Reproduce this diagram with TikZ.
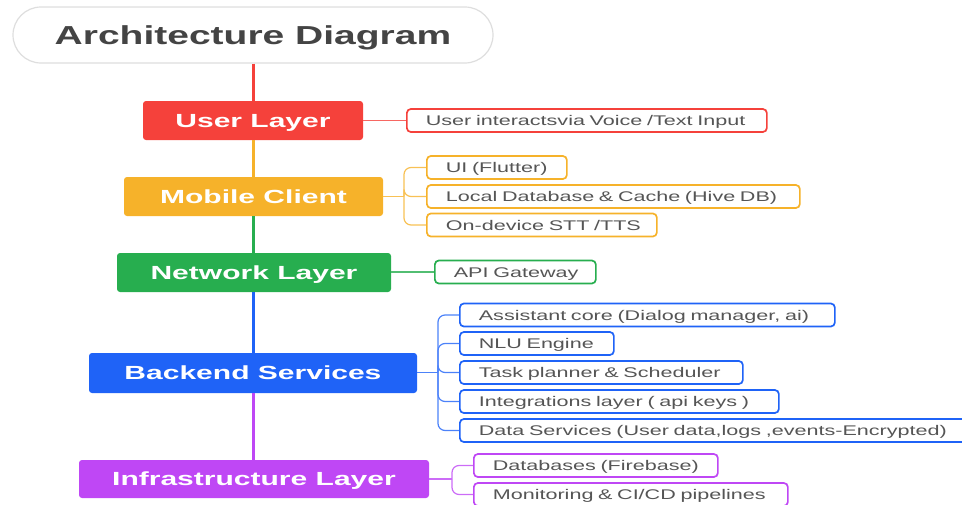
\documentclass[tikz,border=0pt]{standalone}
\usepackage{fontspec}
\setmainfont{Liberation Sans}[FakeStretch=1.5]
\newfontfamily\layerfont{Liberation Sans}[FakeStretch=1.58]
\newfontfamily\kidfont{Liberation Sans}[FakeStretch=1.54]
\definecolor{cred}{HTML}{F5413B}
\definecolor{corange}{HTML}{F6B22A}
\definecolor{cgreen}{HTML}{27AE4F}
\definecolor{cblue}{HTML}{1F63F7}
\definecolor{cpurple}{HTML}{BF47F5}
\definecolor{titlegray}{HTML}{444444}
\definecolor{kidgray}{HTML}{555555}
\tikzset{
  layerbox/.style={rounded corners=3pt, minimum height=39pt, text=white,
    font=\layerfont\fontsize{19}{21}\selectfont\bfseries, inner sep=0pt,
    text height=13.6pt, text depth=0pt},
  kid/.style={draw, rounded corners=4pt, line width=1.7pt, fill=white,
    minimum height=23pt, inner xsep=19pt, inner ysep=0pt, anchor=west,
    align=left, text=kidgray, font=\kidfont\fontsize{14}{16}\selectfont,
    text height=10pt, text depth=0pt},
  trunk/.style={line width=3pt},
  link/.style={line width=1.2pt, rounded corners=7pt},
}
\begin{document}
\begin{tikzpicture}[x=1pt,y=-1pt]
\useasboundingbox (0,0) rectangle (962,504);
\clip (0,0) rectangle (962,504);
% title
\node[draw=black!13, line width=1.2pt, fill=white, rounded corners=28pt,
  minimum width=480pt, minimum height=56pt, inner sep=0pt,
  text height=18.6pt, text depth=0pt,
  text=titlegray, font=\fontsize{26}{28}\selectfont\bfseries]
  (title) at (253,35) {Architecture Diagram};
% layers
\node[layerbox, fill=cred, minimum width=220pt] (user) at (253,120.5) {User Layer};
\node[layerbox, fill=corange, minimum width=259pt] (mob) at (253.5,196.5) {Mobile Client};
\node[layerbox, fill=cgreen, minimum width=274pt] (net) at (254,272.5) {Network Layer};
\node[layerbox, fill=cblue, minimum width=328pt, minimum height=40pt] (back) at (253,373) {Backend Services};
\node[layerbox, fill=cpurple, minimum width=350pt, minimum height=38pt] (infra) at (254,479) {Infrastructure Layer};
% trunk
\draw[trunk, cred] (title.south -| user.north) -- (user.north);
\draw[trunk, corange] (user.south) -- (user.south |- mob.north);
\draw[trunk, cgreen] (user.south |- mob.south) -- (user.south |- net.north);
\draw[trunk, cblue] (user.south |- net.south) -- (user.south |- back.north);
\draw[trunk, cpurple] (user.south |- back.south) -- (user.south |- infra.north);
% children
\node[kid, draw=cred, text width=322pt] (u1) at (406,120.5) {\mbox{User interactsvia Voice /Text Input}};
\node[kid, draw=corange, text width=102pt] (m1) at (426,167.5) {\mbox{UI (Flutter)}};
\node[kid, draw=corange, text width=335pt] (m2) at (426,196.5) {\mbox{Local Database \& Cache (Hive DB)}};
\node[kid, draw=corange, text width=192pt] (m3) at (426,225) {\mbox{On-device STT /TTS}};
\node[kid, draw=cgreen, text width=123pt] (n1) at (434,272) {\mbox{API Gateway}};
\node[kid, draw=cblue, text width=337pt] (b1) at (459,315) {\mbox{Assistant core (Dialog manager, ai)}};
\node[kid, draw=cblue, text width=116pt] (b2) at (459,343.5) {\mbox{NLU Engine}};
\node[kid, draw=cblue, text width=245pt] (b3) at (459,372.5) {\mbox{Task planner \& Scheduler}};
\node[kid, draw=cblue, text width=281pt] (b4) at (459,401.5) {\mbox{Integrations layer ( api keys )}};
\node[kid, draw=cblue, text width=483pt] (b5) at (459,430.5) {\mbox{Data Services (User data,logs ,events-Encrypted)}};
\node[kid, draw=cpurple, text width=206pt] (i1) at (473,465.5) {\mbox{Databases (Firebase)}};
\node[kid, draw=cpurple, text width=276pt] (i2) at (473,494.5) {\mbox{Monitoring \& CI/CD pipelines}};
% connectors
\draw[link, cred!80] (user.east) -- (u1.west);
\draw[link, cgreen!80] (net.east |- n1.west) -- (n1.west);
\coordinate (mbus) at (404,196.5);
\draw[link, corange!80] (mob.east) -- (mbus);
\foreach \k in {m1,m2,m3} \draw[link, corange!80] (mbus) |- (\k.west);
\coordinate (bbus) at (438,372.5);
\draw[link, cblue!80] (back.east |- bbus) -- (bbus);
\foreach \k in {b1,b2,b3,b4,b5} \draw[link, cblue!80] (bbus) |- (\k.west);
\coordinate (ibus) at (452,479);
\draw[link, cpurple!80] (infra.east) -- (ibus);
\foreach \k in {i1,i2} \draw[link, cpurple!80] (ibus) |- (\k.west);
\end{tikzpicture}
\end{document}
